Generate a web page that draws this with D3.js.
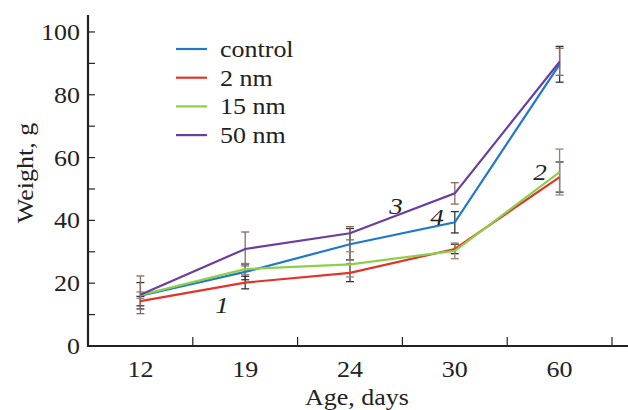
<!DOCTYPE html>
<html>
<head>
<meta charset="utf-8">
<script src="https://cdn.jsdelivr.net/npm/d3@7"></script>
<style>
body { margin: 0; background: #fff; }
</style>
</head>
<body>
<svg id="chart" width="628" height="410"></svg>
<script>
// ages on the x axis (categories)
var ages = ["12", "19", "24", "30", "60"];

// mean weights, g
var control = [16.0, 23.6, 32.4, 39.4, 89.7];
var nm2 = [14.3, 20.2, 23.3, 30.9, 53.8];
var nm15 = [16.2, 24.5, 26.0, 30.3, 55.4];
var nm50 = [16.3, 30.9, 35.9, 48.6, 90.5];

// error half-widths, g
var controlErr = [4.2, 2.5, 5.0, 3.4, 5.7];
var nm2Err = [1.5, 2.0, 2.8, 1.5, 4.8];
var nm15Err = [1.0, 1.8, 4.0, 2.5, 7.3];
var nm50Err = [6.0, 5.4, 2.1, 3.4, 4.3];

var seriesNames = ["control", "2 nm", "15 nm", "50 nm"];
var yTicks = [0, 20, 40, 60, 80, 100];
var curveLabels = ["1", "2", "3", "4"];

var colors = ["#1f78c8", "#e3342a", "#8ccf4a", "#6a3ea1"];
var errColors = ["#333", "#333", "#9a8074", "#8a6a5e"];

var FONT = "'Liberation Serif', 'Times New Roman', serif";
var SX = 1.13; // the original type is a bit wide

var series = [control, nm2, nm15, nm50].map(function(vals, k) {
    var errs = [controlErr, nm2Err, nm15Err, nm50Err][k];
    return {
        name: seriesNames[k],
        color: colors[k],
        errColor: errColors[k],
        values: vals.map(function(v, i) { return {age: ages[i], v: v, e: errs[i]}; })
    };
});

var svg = d3.select("#chart")
    .attr("font-family", FONT);

// wide text helper
function label(parent, tx, ty, str, anchor, size, rot) {
    return parent.append("text")
        .attr("transform", "translate(" + tx + "," + ty + ")" + (rot ? " rotate(" + rot + ")" : "") + " scale(" + SX + ",1)")
        .attr("text-anchor", anchor)
        .attr("font-size", size)
        .attr("fill", "#222")
        .text(str);
}

var x = d3.scaleBand().domain(ages).range([88, 612]);
var y = d3.scaleLinear().domain([0, 105.4]).range([346, 15]);
var cx = function(a) { return x(a) + x.bandwidth() / 2; };

// axes lines
svg.append("line")
    .attr("x1", 88).attr("x2", 88)
    .attr("y1", y(0) + 1).attr("y2", y(105.4))
    .attr("stroke", "#222").attr("stroke-width", 2.2);
svg.append("line")
    .attr("x1", 87).attr("x2", 628)
    .attr("y1", y(0)).attr("y2", y(0))
    .attr("stroke", "#222").attr("stroke-width", 2.2);

// y ticks (major + minor, pointing inward)
d3.range(10, 101, 10).forEach(function(t) {
    svg.append("line")
        .attr("x1", 88).attr("x2", 95)
        .attr("y1", y(t)).attr("y2", y(t))
        .attr("stroke", "#222").attr("stroke-width", 1.2);
});
yTicks.forEach(function(t) {
    label(svg, 80, y(t) + 8, t, "end", 23);
});

// x ticks between categories, pointing up
ages.forEach(function(a) {
    var xx = x(a) + x.bandwidth();
    svg.append("line")
        .attr("x1", xx).attr("x2", xx)
        .attr("y1", y(0)).attr("y2", y(0) - 9)
        .attr("stroke", "#222").attr("stroke-width", 1.2);
    label(svg, cx(a), 377, a, "middle", 23);
});

// axis titles
label(svg, 357, 405, "Age, days", "middle", 23);
label(svg, 33, 173, "Weight, g", "middle", 23, -90);

// error bars
series.forEach(function(s) {
    var g = svg.append("g").attr("stroke", s.errColor).attr("stroke-width", 1.3);
    s.values.forEach(function(d) {
        var xx = cx(d.age);
        g.append("line").attr("x1", xx).attr("x2", xx)
            .attr("y1", y(d.v + d.e)).attr("y2", y(d.v - d.e));
        [d.v + d.e, d.v - d.e].forEach(function(c) {
            g.append("line").attr("x1", xx - 4).attr("x2", xx + 4)
                .attr("y1", y(c)).attr("y2", y(c));
        });
    });
});

// lines
var line = d3.line()
    .x(function(d) { return cx(d.age); })
    .y(function(d) { return y(d.v); });

svg.selectAll("path.series")
    .data(series)
    .enter().append("path")
    .attr("class", "series")
    .attr("fill", "none")
    .attr("stroke", function(d) { return d.color; })
    .attr("stroke-width", 2.2)
    .attr("d", function(d) { return line(d.values); });

// curve numbers
var numPos = [[222, 313], [540, 180], [396, 214], [437, 225]];
curveLabels.forEach(function(t, k) {
    label(svg, numPos[k][0], numPos[k][1], t, "middle", 24)
        .attr("font-style", "italic");
});

// legend
var legend = svg.append("g").attr("transform", "translate(176,49)");
series.forEach(function(s, k) {
    var row = legend.append("g").attr("transform", "translate(0," + (k * 28.7) + ")");
    row.append("line")
        .attr("x1", 0).attr("x2", 31)
        .attr("stroke", s.color).attr("stroke-width", 2.2);
    label(row, 44, 8, s.name, "start", 23);
});
</script>
</body>
</html>
